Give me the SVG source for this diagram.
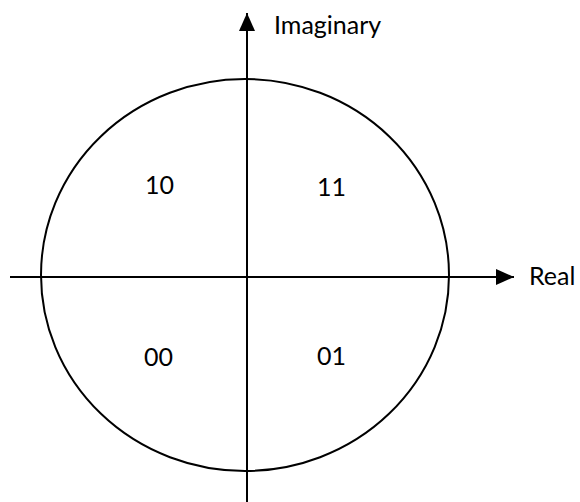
<svg xmlns="http://www.w3.org/2000/svg" width="580" height="502" viewBox="0 0 580 502">
<style>
.ln{stroke:#000;stroke-width:2;fill:none}
.t{font-family:Lato,"Open Sans","Liberation Sans",sans-serif;font-size:25px;fill:#000}
</style>
<defs>
<marker id="ah" markerWidth="18" markerHeight="16" refX="18" refY="8" orient="auto" markerUnits="userSpaceOnUse">
<path d="M0,0 L18,8 L0,16 Z" fill="#000"/>
</marker>
</defs>
<rect width="580" height="502" fill="#fff"/>
<g id="circle"><ellipse class="ln" cx="245" cy="275" rx="204" ry="196"/></g>
<g id="connectors">
<line class="ln" x1="10" y1="277" x2="514" y2="277" marker-end="url(#ah)"/>
<line class="ln" x1="247" y1="502" x2="247" y2="13" marker-end="url(#ah)"/>
</g>
<g id="labels">
<text class="t" x="274" y="34">Imaginary</text>
<text class="t" x="529" y="285">Real</text>
<text class="t" x="145" y="194">10</text>
<text class="t" x="317" y="196">11</text>
<text class="t" x="144" y="366">00</text>
<text class="t" x="317" y="365">01</text>
</g>
</svg>
